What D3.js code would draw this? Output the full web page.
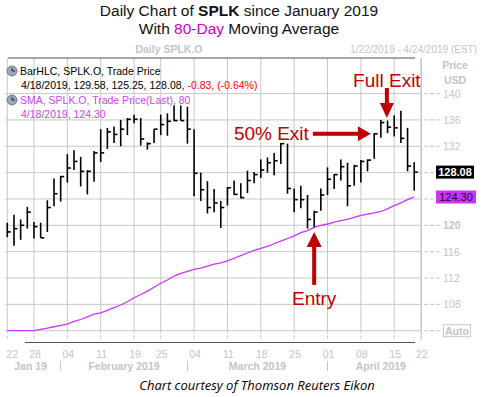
<!DOCTYPE html>
<html>
<head>
<meta charset="utf-8">
<script src="https://cdn.jsdelivr.net/npm/d3@7"></script>
<style>
  body { margin: 0; background: #fff; }
  svg { display: block; }
</style>
</head>
<body>
<svg id="chart" width="484" height="397"></svg>
<script>
// trading days from 1/22/2019 to 4/18/2019, by index
const highs = [120.4, 121.6, 120.9, 122.8, 120.5, 120.4, 123.8, 127.1, 127.5, 130.8,
  131.4, 130.4, 128.4, 131.3, 134.6, 134.8, 135.0, 136.0, 136.3, 136.8,
  136.3, 132.6, 134.6, 136.8, 137.0, 138.2, 138.2, 138.0, 134.6, 128.0,
  126.7, 125.5, 123.7, 125.8, 126.8, 126.4, 128.3, 128.1, 130.0, 130.3,
  131.0, 132.5, 132.4, 125.6, 126.0, 124.6, 122.2, 125.6, 128.8, 127.8,
  130.0, 129.5, 129.2, 129.9, 130.0, 134.0, 136.0, 135.9, 136.7, 137.4,
  134.8, 129.58]
const lows = [118.2, 116.9, 117.8, 119.5, 118.0, 118.1, 119.0, 122.9, 123.6, 126.5,
  128.4, 125.9, 124.7, 126.6, 129.6, 131.6, 132.5, 132.0, 133.7, 135.5,
  132.1, 131.5, 132.5, 133.7, 133.6, 135.8, 135.9, 132.4, 124.4, 123.7,
  121.8, 122.0, 119.6, 123.0, 124.6, 124.1, 124.9, 126.4, 127.2, 128.0,
  127.6, 129.3, 124.8, 122.0, 122.6, 119.5, 119.7, 122.2, 124.6, 125.5,
  126.8, 122.9, 126.0, 126.5, 128.2, 130.1, 133.3, 134.0, 133.5, 132.5,
  128.2, 125.25]
const closes = [119.0, 119.5, 120.0, 122.0, 119.8, 118.1, 122.7, 124.8, 127.4, 128.7,
  129.7, 128.2, 128.2, 131.0, 131.0, 134.2, 133.8, 134.6, 136.1, 136.1,
  133.1, 132.4, 134.6, 135.3, 135.8, 135.9, 135.9, 134.6, 127.9, 125.4,
  122.7, 123.4, 122.7, 125.7, 124.7, 124.2, 126.8, 127.7, 128.4, 129.5,
  129.8, 132.4, 125.6, 123.9, 123.9, 120.9, 122.0, 124.6, 127.0, 127.7,
  128.9, 126.0, 129.0, 129.7, 129.9, 133.9, 135.6, 134.9, 134.8, 133.2,
  129.0, 128.08]
const sma80 = [103.5, 103.6, 103.7, 103.8, 104.0, 104.2, 104.4, 104.6, 104.8, 105.0,
  105.4, 105.7, 106.1, 106.5, 106.7, 107.1, 107.5, 107.9, 108.4, 109.0,
  109.5, 110.0, 110.6, 111.2, 111.7, 112.3, 112.7, 113.0, 113.3, 113.5,
  113.8, 114.1, 114.3, 114.6, 115.0, 115.4, 115.8, 116.2, 116.5, 116.8,
  117.2, 117.6, 118.0, 118.4, 118.9, 119.2, 119.7, 120.0, 120.2, 120.5,
  120.7, 120.9, 121.2, 121.5, 121.7, 121.9, 122.1, 122.5, 123.0, 123.4,
  123.9, 124.3]

const priceTicks = [104, 108, 112, 116, 120, 124, 128, 132, 136, 140]
const priceLabels = ["Auto", "108", "112", "116", "120", "", "", "132", "136", "140"]
const dayTickIdx = [0, 4, 9, 14, 19, 23, 28, 33, 38, 43, 48, 53, 58, 62]
const dayTickLabels = ["22", "28", "04", "11", "19", "25", "04", "11", "18", "25", "01", "08", "15", "22"]
const monthNames = ["Jan 19", "February 2019", "March 2019", "April 2019"]
const monthStart = [-1, 8, 27, 48]
const monthEnd = [8, 27, 48, 64]

const lastClose = 128.08
const lastSma = 124.30

const grid_color = "#c8c8c8"
const axis_text = "#c4c4c4"
const sma_color = "#cc33ff"
const note_color = "#c00000"
const font = "'Liberation Sans', Arial, sans-serif"

const svg = d3.select("#chart")

const x = d3.scaleLinear().domain([0, 62]).range([7.3, 420.9])
const y = d3.scaleLinear().domain([104, 140]).range([330.7, 93.6])
const ySma = y.copy().clamp(true)

const plotLeft = 5, plotRight = 421, plotTop = 58, plotBottom = y(104)

// title
const title = svg.append("text")
  .attr("x", 239).attr("y", 16)
  .attr("text-anchor", "middle")
  .attr("font-family", font).attr("font-size", "15.5px").attr("fill", "#111")
title.append("tspan").text("Daily Chart of ")
title.append("tspan").attr("font-weight", "bold").text("SPLK")
title.append("tspan").text(" since January 2019")
const sub = svg.append("text")
  .attr("x", 239).attr("y", 34)
  .attr("text-anchor", "middle")
  .attr("font-family", font).attr("font-size", "15.5px").attr("fill", "#111")
sub.append("tspan").text("With ")
sub.append("tspan").attr("fill", "#cc00cc").text("80-Day")
sub.append("tspan").text(" Moving Average")

// header row
svg.append("text")
  .attr("x", 169).attr("y", 53)
  .attr("text-anchor", "middle")
  .attr("font-family", font).attr("font-size", "10.5px").attr("font-weight", "bold")
  .attr("fill", axis_text)
  .text("Daily SPLK.O")
svg.append("text")
  .attr("x", 477).attr("y", 53)
  .attr("text-anchor", "end")
  .attr("font-family", font).attr("font-size", "10px")
  .attr("fill", axis_text)
  .text("1/22/2019 - 4/24/2019 (EST)")

// grid
const grid = svg.append("g")
grid.selectAll("line.h")
  .data(priceTicks)
  .join("line")
  .attr("class", "h")
  .attr("x1", plotLeft).attr("x2", plotRight)
  .attr("y1", d => y(d)).attr("y2", d => y(d))
  .attr("stroke", grid_color).attr("stroke-width", 1)
grid.selectAll("line.v")
  .data(dayTickIdx)
  .join("line")
  .attr("class", "v")
  .attr("x1", d => x(d)).attr("x2", d => x(d))
  .attr("y1", plotTop).attr("y2", plotBottom)
  .attr("stroke", grid_color).attr("stroke-width", 1)
grid.selectAll("line.vt")
  .data(dayTickIdx)
  .join("line")
  .attr("class", "vt")
  .attr("x1", d => x(d)).attr("x2", d => x(d))
  .attr("y1", plotBottom).attr("y2", 340)
  .attr("stroke", grid_color).attr("stroke-width", 1)
  .attr("stroke-dasharray", "3,2")

// scroll bars top and bottom
svg.append("line")
  .attr("x1", 8).attr("x2", 415).attr("y1", plotTop).attr("y2", plotTop)
  .attr("stroke", "#555").attr("stroke-width", 1.2)
svg.append("line")
  .attr("x1", 25).attr("x2", 415).attr("y1", 342.5).attr("y2", 342.5)
  .attr("stroke", "#555").attr("stroke-width", 1.2)

// right axis
const ra = svg.append("g")
ra.append("line")
  .attr("x1", 421.5).attr("x2", 421.5).attr("y1", plotTop).attr("y2", 340)
  .attr("stroke", grid_color)
ra.selectAll("line.t")
  .data(priceTicks)
  .join("line")
  .attr("class", "t")
  .attr("x1", 424).attr("x2", 440)
  .attr("y1", d => y(d)).attr("y2", d => y(d))
  .attr("stroke", axis_text).attr("stroke-dasharray", "4,2")
ra.selectAll("text.t")
  .data(priceTicks.filter((d, i) => priceLabels[i] !== "" && priceLabels[i] !== "Auto"))
  .join("text")
  .attr("class", "t")
  .attr("x", 443).attr("y", d => y(d) + 4)
  .attr("font-family", font).attr("font-size", "10.5px")
  .attr("font-weight", d => d === 120 ? "bold" : "normal")
  .attr("fill", axis_text)
  .text(d => priceLabels[priceTicks.indexOf(d)])
ra.append("rect")
  .attr("x", 443.5).attr("y", y(104) - 6).attr("width", 27).attr("height", 12)
  .attr("fill", "none").attr("stroke", grid_color)
ra.append("text")
  .attr("x", 457).attr("y", y(104) + 4)
  .attr("text-anchor", "middle")
  .attr("font-family", font).attr("font-size", "10.5px").attr("font-weight", "bold")
  .attr("fill", axis_text).text("Auto")
ra.append("text")
  .attr("x", 455).attr("y", 69)
  .attr("text-anchor", "middle")
  .attr("font-family", font).attr("font-size", "10.5px").attr("font-weight", "bold")
  .attr("fill", axis_text).text("Price")
ra.append("text")
  .attr("x", 455).attr("y", 84)
  .attr("text-anchor", "middle")
  .attr("font-family", font).attr("font-size", "10.5px").attr("font-weight", "bold")
  .attr("fill", axis_text).text("USD")

// last value boxes
ra.append("rect")
  .attr("x", 436).attr("y", y(lastClose) - 6.5).attr("width", 38).attr("height", 13)
  .attr("fill", "#000")
ra.append("text")
  .attr("x", 455).attr("y", y(lastClose) + 4)
  .attr("text-anchor", "middle")
  .attr("font-family", font).attr("font-size", "11px").attr("font-weight", "bold")
  .attr("fill", "#fff").text(lastClose.toFixed(2))
ra.append("rect")
  .attr("x", 436).attr("y", y(lastSma) - 6.5).attr("width", 40).attr("height", 13)
  .attr("fill", sma_color)
ra.append("text")
  .attr("x", 456).attr("y", y(lastSma) + 4)
  .attr("text-anchor", "middle")
  .attr("font-family", font).attr("font-size", "11px")
  .attr("fill", "#111").text(lastSma.toFixed(2))

// bottom axis
const ba = svg.append("g")
ba.selectAll("text.d")
  .data(dayTickIdx)
  .join("text")
  .attr("class", "d")
  .attr("x", (d, i) => i === 0 ? x(d) - 1 : x(d) + 1)
  .attr("y", 358)
  .attr("text-anchor", (d, i) => i === 0 ? "start" : "middle")
  .attr("font-family", font).attr("font-size", "10.5px")
  .attr("fill", axis_text)
  .text((d, i) => dayTickLabels[i])
ba.selectAll("text.m")
  .data(monthNames)
  .join("text")
  .attr("class", "m")
  .attr("x", (d, i) => x((monthStart[i] + monthEnd[i]) / 2))
  .attr("y", 370)
  .attr("text-anchor", "middle")
  .attr("font-family", font).attr("font-size", "10.5px").attr("font-weight", "bold")
  .attr("fill", axis_text)
  .text(d => d)
ba.selectAll("line.sep")
  .data(monthStart.slice(1))
  .join("line")
  .attr("class", "sep")
  .attr("x1", d => x(d)).attr("x2", d => x(d))
  .attr("y1", 361).attr("y2", 371)
  .attr("stroke", axis_text)

// SMA line
svg.append("path")
  .datum(sma80)
  .attr("fill", "none")
  .attr("stroke", sma_color)
  .attr("stroke-width", 1.3)
  .attr("d", d3.line().x((d, i) => x(i)).y(d => ySma(d)))

// HLC bars
const bars = svg.append("g").attr("stroke", "#000")
bars.selectAll("line.hl")
  .data(highs)
  .join("line")
  .attr("class", "hl")
  .attr("x1", (d, i) => x(i)).attr("x2", (d, i) => x(i))
  .attr("y1", d => y(d)).attr("y2", (d, i) => y(lows[i]))
  .attr("stroke-width", 1.6)
bars.selectAll("line.c")
  .data(closes)
  .join("line")
  .attr("class", "c")
  .attr("x1", (d, i) => x(i)).attr("x2", (d, i) => x(i) + 3.5)
  .attr("y1", d => y(d)).attr("y2", d => y(d))
  .attr("stroke-width", 1.6)

// legend
function icon(cx, cy) {
  svg.append("circle").attr("cx", cx).attr("cy", cy).attr("r", 5)
    .attr("fill", "#9aa8bc").attr("stroke", "#5a6880").attr("stroke-width", 0.8)
  svg.append("path").attr("d", `M${cx},${cy - 3}V${cy}H${cx + 3}`)
    .attr("fill", "none").attr("stroke", "#223").attr("stroke-width", 1)
}
icon(12, 71)
icon(12, 100)
svg.append("text")
  .attr("x", 20).attr("y", 75)
  .attr("font-family", font).attr("font-size", "10.5px").attr("fill", "#000")
  .text("BarHLC, SPLK.O, Trade Price")
const l2 = svg.append("text")
  .attr("x", 21).attr("y", 89)
  .attr("font-family", font).attr("font-size", "10.5px").attr("fill", "#000")
l2.append("tspan").text("4/18/2019, 129.58, 125.25, 128.08, ")
l2.append("tspan").attr("fill", "#ff0000").text("-0.83, (-0.64%)")
svg.append("text")
  .attr("x", 20).attr("y", 104)
  .attr("font-family", font).attr("font-size", "10.5px").attr("fill", "#cc44ee")
  .text("SMA, SPLK.O, Trade Price(Last), 80")
svg.append("text")
  .attr("x", 21).attr("y", 118)
  .attr("font-family", font).attr("font-size", "10.5px").attr("fill", "#cc44ee")
  .text("4/18/2019, 124.30")

// annotations
const notes = svg.append("g").attr("fill", note_color)
// Full Exit, arrow pointing down
const fx = x(56.9), fy = y(136.3)
notes.append("rect").attr("x", fx - 2).attr("y", fy - 30).attr("width", 4).attr("height", 16)
notes.append("path").attr("d", `M${fx - 7},${fy - 15}L${fx + 7},${fy - 15}L${fx},${fy}Z`)
notes.append("text").attr("x", fx).attr("y", fy - 31)
  .attr("text-anchor", "middle")
  .attr("font-family", font).attr("font-size", "19px").text("Full Exit")
// 50% Exit, arrow pointing right
const hx = x(54.5), hy = y(133.9)
notes.append("rect").attr("x", hx - 58).attr("y", hy - 2).attr("width", 46).attr("height", 4)
notes.append("path").attr("d", `M${hx - 13},${hy - 7.5}L${hx - 13},${hy + 7.5}L${hx},${hy}Z`)
notes.append("text").attr("x", hx - 62).attr("y", hy + 6.5)
  .attr("text-anchor", "end")
  .attr("font-family", font).attr("font-size", "19px").text("50% Exit")
// Entry, arrow pointing up
const ex = x(46), ey = y(119.0)
notes.append("path").attr("d", `M${ex - 7.5},${ey + 15}L${ex + 7.5},${ey + 15}L${ex},${ey}Z`)
notes.append("rect").attr("x", ex - 2).attr("y", ey + 14).attr("width", 4).attr("height", 39)
notes.append("text").attr("x", ex).attr("y", ey + 73)
  .attr("text-anchor", "middle")
  .attr("font-family", font).attr("font-size", "19px").text("Entry")

// footer
svg.append("text")
  .attr("x", 257).attr("y", 390)
  .attr("text-anchor", "middle")
  .attr("font-family", "'Open Sans', sans-serif").attr("font-size", "13px")
  .attr("font-style", "italic").attr("fill", "#000")
  .text("Chart courtesy of Thomson Reuters Eikon")
</script>
</body>
</html>
